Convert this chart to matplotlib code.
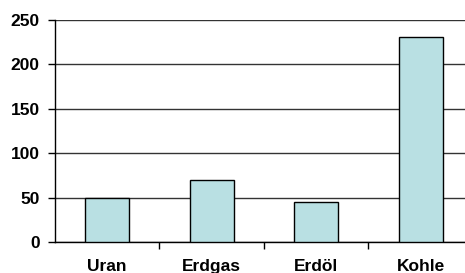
import numpy as np
import matplotlib.pyplot as plt

categories = ["Uran", "Erdgas", "Erdöl", "Kohle"]
values = [50, 70, 45, 230]
yticks = [0, 50, 100, 150, 200, 250]

BAR = "#b9e0e3"
INK = "#000000"
GRID = "#333333"

plt.rcParams["font.family"] = ["Liberation Sans", "DejaVu Sans"]

fig = plt.figure(figsize=(4.65, 2.73), dpi=100)
ax = fig.add_axes([0.118, 0.1125, 0.899, 0.816])

x = np.arange(len(categories))
ax.bar(x, values, width=0.42, color=BAR, edgecolor=INK, linewidth=1, zorder=3)

ax.set_ylim(0, 250)
ax.set_xlim(-0.5, len(categories) - 0.5)
ax.set_yticks(yticks)
ax.set_yticklabels([str(v) for v in yticks], fontsize=12.5, fontweight="bold")
ax.yaxis.grid(True, color=GRID, linewidth=1, zorder=0)
ax.set_axisbelow(True)

# category boundaries carry the tick marks, centres carry the labels
ax.set_xticks(x[:-1] + 0.5)
ax.set_xticklabels([])
ax.set_xticks(x, minor=True)
ax.set_xticklabels(categories, minor=True, fontsize=12.5, fontweight="bold")
ax.tick_params(axis="x", which="minor", length=0, pad=12)
ax.tick_params(axis="x", which="major", length=5, width=1, color=INK)
ax.tick_params(axis="y", length=5, width=1, color=INK, pad=6)

for spine in ("top", "right"):
    ax.spines[spine].set_visible(False)
for spine in ("left", "bottom"):
    ax.spines[spine].set_color(INK)
    ax.spines[spine].set_linewidth(1)

fig.savefig("out.png", dpi=100)
